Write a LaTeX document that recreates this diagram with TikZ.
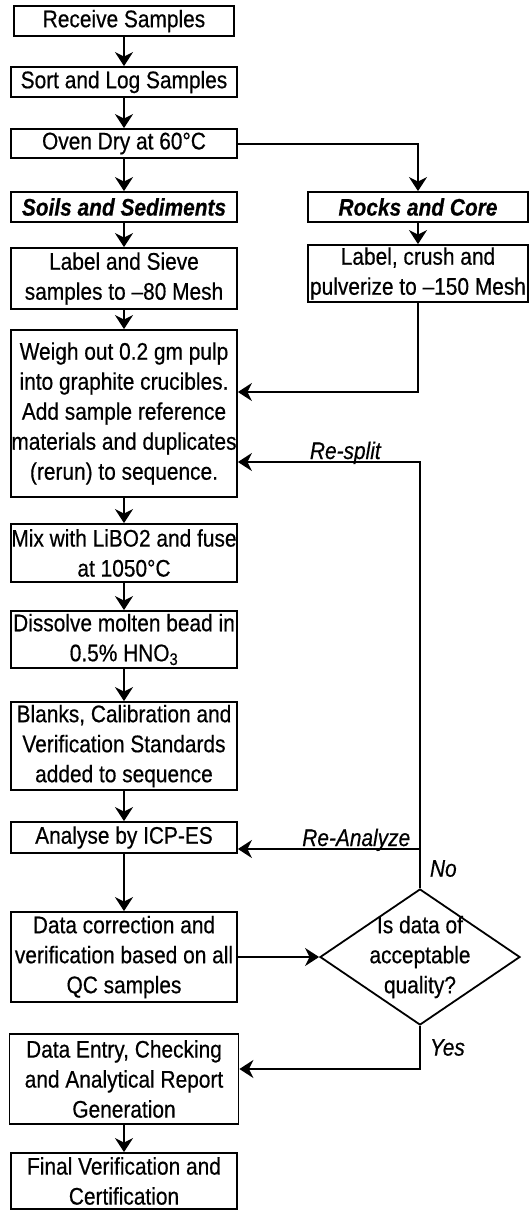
\documentclass[tikz,border=0pt]{standalone}
\usepackage{fontspec}
\setmainfont[FakeStretch=0.87,FakeBold=0.5]{Liberation Sans}
\usetikzlibrary{arrows.meta,shapes.geometric}

\begin{document}
\begin{tikzpicture}[x=1pt,y=-1pt,
  stepbox/.style={draw,line width=1.8pt,align=center,inner sep=0pt,
    minimum width=226pt,font=\fontsize{24}{30}\selectfont},
  flow/.style={-{Stealth[length=14pt,width=18pt,inset=4.5pt]},line width=2pt},
  branch/.style={font=\fontsize{24}{30}\selectfont\itshape,inner sep=0pt}]
  \useasboundingbox (0,0) rectangle (529,1211);
  % Sample preparation
  \node[stepbox,minimum width=220pt,minimum height=30pt] (recv) at (124,21) {Receive Samples};
  \node[stepbox,minimum height=30pt] (sortlog) at (124,82) {Sort and Log Samples};
  \node[stepbox,minimum height=29pt] (oven) at (124,143.5) {Oven Dry at 60°C};
  \node[stepbox,minimum height=30pt] (soils) at (124,207) {\bfseries\itshape Soils and Sediments};
  \node[stepbox,minimum width=220pt,minimum height=30pt] (rocks) at (418,207) {\bfseries\itshape Rocks and Core};
  \node[stepbox,minimum height=61pt] (sieve) at (124,278.5) {Label and Sieve\\samples to –80 Mesh};
  \node[stepbox,minimum width=220pt,minimum height=57pt] (crush) at (418,273.5) {Label, crush and\\pulverize to –150 Mesh};
  % Digestion and analysis
  \node[stepbox,minimum height=167pt] (weigh) at (124,413.5) {Weigh out 0.2 gm pulp\\into graphite crucibles.\\Add sample reference\\materials and duplicates\\(rerun) to sequence.};
  \node[stepbox,minimum height=58pt] (mix) at (124,553) {Mix with LiBO2 and fuse\\at 1050°C};
  \node[stepbox,minimum height=57pt] (dissolve) at (124,639.5) {Dissolve molten bead in\\0.5\% HNO\textsubscript{3}};
  \node[stepbox,minimum height=88pt] (blanks) at (124,746) {Blanks, Calibration and\\Verification Standards\\added to sequence};
  \node[stepbox,minimum height=31pt] (analyse) at (124,837.5) {Analyse by ICP-ES};
  % Quality control
  \node[stepbox,minimum height=90pt] (datacorr) at (124,957) {Data correction and\\verification based on all\\QC samples};
  \node[draw,diamond,line width=1.8pt,minimum width=200pt,minimum height=136pt,inner sep=-12pt,
    align=center,font=\fontsize{24}{30}\selectfont] (quality) at (420,957) {Is data of\\acceptable\\quality?};
  \node[stepbox,minimum width=229pt,minimum height=90pt] (entry) at (124,1079) {Data Entry, Checking\\and Analytical Report\\Generation};
  \node[stepbox,minimum height=56pt] (final) at (124,1181) {Final Verification and\\Certification};
  % Main flow
  \draw[flow] (recv) -- (sortlog);
  \draw[flow] (sortlog) -- (oven);
  \draw[flow] (oven) -- (soils);
  \draw[flow] (oven.east) -| (rocks.north);
  \draw[flow] (soils) -- (sieve);
  \draw[flow] (rocks) -- (crush);
  \draw[flow] (sieve) -- (weigh);
  \draw[flow] (crush.south) |- ([yshift=21.5pt]weigh.east);
  \draw[flow] (weigh) -- (mix);
  \draw[flow] (mix) -- (dissolve);
  \draw[flow] (dissolve) -- (blanks);
  \draw[flow] (blanks) -- (analyse);
  \draw[flow] (analyse) -- (datacorr);
  \draw[flow] (datacorr) -- (quality);
  % Decision branches
  \draw[flow] (quality.north) |- node[pos=0.705,branch,anchor=base,yshift=3pt]{Re-split} ([yshift=-48.5pt]weigh.east);
  \draw[flow] (quality.north) |- node[pos=0.25,branch,right=9pt]{No}
    node[pos=0.675,branch,anchor=base,yshift=3pt]{Re-Analyze} ([yshift=-11.5pt]analyse.east);
  \draw[flow] (quality.south) |- node[pos=0.25,branch,right=9pt]{Yes} ([yshift=10pt]entry.east);
  \draw[flow] (entry) -- (final);
\end{tikzpicture}
\end{document}
